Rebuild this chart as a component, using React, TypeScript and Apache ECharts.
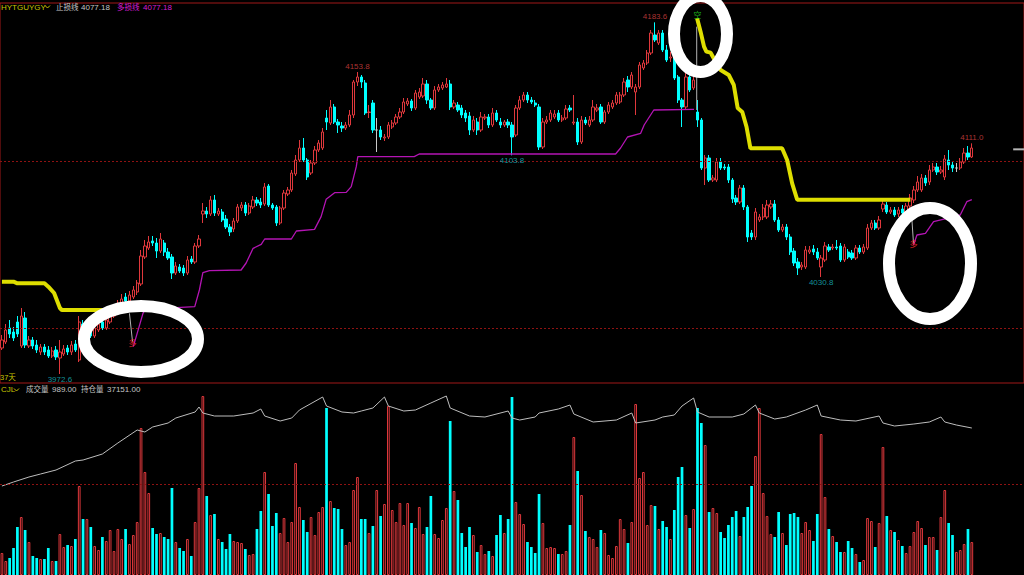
import React, { useEffect, useRef } from 'react';
import * as echarts from 'echarts';

// ---------- data ----------
// candles: [open, close, low, high]
const ohlc: number[][] = [
[3988.2,3993.0,3987.0,3996.0],[3991.8,3999.0,3990.6,4002.6],[4000.2,3996.6,3994.2,4005.0],[3997.8,3994.2,3992.4,4000.8],[4003.8,3996.6,3994.8,4007.4],
[3989.4,4007.4,3988.2,4012.2],[4006.2,3990.0,3988.2,4009.8],[3989.4,3993.0,3988.2,3995.4],[3993.0,3989.4,3987.6,3994.8],[3990.0,3987.0,3985.2,3993.0],
[3985.8,3988.8,3984.0,3990.6],[3988.8,3985.8,3984.0,3990.6],[3987.0,3983.4,3982.2,3989.4],[3983.4,3986.4,3982.2,3988.8],[3987.0,3982.8,3981.0,3989.4],
[3982.2,3985.8,3972.6,3993.0],[3984.6,3987.6,3983.4,3990.0],[3988.2,3985.8,3984.0,3990.0],[3985.8,3990.0,3984.0,3992.4],[3990.6,3987.0,3985.8,3993.0],
[3981.0,4003.8,3979.8,4007.4],[4002.6,3996.6,3994.8,4005.0],[3994.8,3999.0,3993.6,4001.4],[3999.0,3995.4,3994.2,4001.4],[3995.4,4000.2,3994.2,4002.6],
[3999.0,4002.6,3997.8,4005.0],[4003.8,4000.2,3999.0,4006.2],[4000.2,4005.0,3999.0,4007.4],[4003.8,4008.6,4002.6,4011.0],[4007.4,4011.0,4006.2,4013.4],
[4009.8,4014.6,4008.6,4017.0],[4013.4,4017.6,4012.2,4020.6],[4018.8,4016.4,4014.6,4021.2],[4016.4,4020.0,4015.2,4022.4],[4018.8,4023.0,4017.6,4025.4],
[4021.8,4027.2,4020.0,4029.0],[4026.6,4043.4,4025.4,4047.0],[4042.8,4049.4,4041.6,4053.0],[4048.2,4051.8,4047.0,4055.4],[4052.4,4051.2,4049.4,4055.4],
[4051.2,4046.4,4042.2,4054.2],[4046.4,4053.6,4045.2,4057.2],[4051.2,4045.8,4043.4,4053.0],[4045.8,4042.2,4041.0,4048.2],[4042.8,4033.2,4029.6,4044.6],
[4033.2,4037.4,4032.0,4039.8],[4036.8,4034.4,4033.2,4038.6],[4036.2,4033.2,4031.4,4038.0],[4033.2,4041.0,4032.0,4043.4],[4041.6,4039.8,4038.6,4043.4],
[4039.8,4049.4,4038.6,4051.2],[4049.4,4053.6,4048.2,4056.0],[4068.6,4070.4,4063.2,4075.2],[4070.4,4068.6,4066.2,4072.8],[4068.6,4077.0,4067.4,4079.4],
[4077.0,4069.2,4067.4,4080.0],[4068.6,4070.4,4067.4,4072.2],[4069.8,4065.0,4063.8,4071.6],[4065.6,4060.8,4059.6,4068.0],[4060.8,4057.8,4055.4,4062.6],
[4059.6,4064.4,4057.8,4066.2],[4064.4,4072.8,4063.2,4074.6],[4072.2,4074.0,4070.4,4075.8],[4074.0,4069.2,4067.4,4075.8],[4069.2,4073.4,4068.0,4075.2],
[4072.8,4077.0,4071.6,4079.4],[4077.0,4075.2,4073.4,4078.8],[4075.8,4074.0,4072.2,4078.2],[4074.6,4084.8,4073.4,4087.2],[4085.4,4074.0,4072.8,4086.6],
[4074.0,4072.2,4071.0,4075.2],[4072.8,4063.2,4061.4,4074.0],[4063.2,4072.2,4062.0,4073.4],[4072.2,4081.2,4071.0,4083.0],[4080.6,4083.0,4079.4,4084.8],
[4083.0,4093.2,4081.8,4095.0],[4092.6,4101.0,4091.4,4104.0],[4101.0,4108.2,4099.8,4113.0],[4108.2,4101.0,4099.8,4114.2],[4101.0,4090.8,4089.0,4102.2],
[4093.2,4099.2,4092.0,4101.0],[4099.2,4107.0,4098.0,4109.4],[4107.0,4111.2,4105.8,4113.0],[4108.2,4117.8,4107.0,4120.2],[4126.2,4123.8,4119.0,4131.0],
[4123.2,4132.8,4122.0,4137.0],[4132.8,4123.8,4122.6,4134.6],[4123.8,4122.0,4117.2,4125.6],[4121.4,4120.2,4117.8,4123.8],[4120.2,4122.0,4119.0,4123.8],
[4122.0,4128.0,4120.8,4131.0],[4128.0,4147.8,4126.2,4149.0],[4147.8,4150.8,4145.4,4153.8],[4150.8,4147.8,4144.2,4152.0],[4147.2,4129.2,4128.0,4149.0],
[4129.5,4129.8,4126.2,4134.0],[4135.2,4119.0,4117.2,4137.0],[4119.0,4119.0,4105.8,4126.2],[4119.0,4114.8,4113.0,4121.4],[4114.2,4114.8,4112.4,4116.6],
[4114.8,4122.0,4113.6,4123.8],[4120.8,4123.2,4119.6,4125.0],[4123.2,4126.8,4122.0,4128.6],[4126.8,4129.8,4125.6,4132.2],[4129.8,4135.8,4128.6,4138.2],
[4134.6,4136.4,4133.4,4138.2],[4136.4,4132.2,4130.4,4137.6],[4132.2,4141.2,4131.0,4143.0],[4138.8,4141.8,4137.6,4144.2],[4139.4,4146.6,4138.2,4150.2],
[4146.6,4137.0,4134.6,4149.0],[4137.0,4132.2,4131.0,4138.2],[4132.2,4143.0,4131.0,4145.4],[4143.0,4144.8,4141.8,4146.6],[4144.2,4146.0,4143.0,4147.8],
[4144.8,4146.6,4144.2,4150.2],[4146.6,4132.8,4131.0,4149.0],[4132.8,4135.2,4131.6,4137.0],[4134.0,4131.0,4129.8,4135.8],[4132.2,4128.0,4126.2,4134.0],
[4129.2,4126.2,4123.8,4131.0],[4127.4,4119.0,4116.0,4129.8],[4119.0,4125.0,4117.8,4127.4],[4123.8,4119.0,4116.0,4126.2],[4119.0,4126.8,4117.8,4129.8],
[4126.2,4126.8,4125.0,4128.6],[4126.8,4122.0,4120.2,4128.6],[4122.0,4129.2,4120.8,4132.2],[4129.2,4125.0,4123.8,4131.0],[4123.8,4122.0,4120.2,4126.2],
[4122.0,4123.8,4120.8,4125.0],[4123.8,4122.0,4120.2,4125.6],[4122.0,4114.8,4103.8,4123.8],[4116.0,4132.2,4114.8,4134.0],[4132.2,4137.0,4131.0,4139.4],
[4137.0,4140.0,4135.8,4141.8],[4140.0,4137.0,4135.2,4141.8],[4137.0,4135.8,4134.6,4138.8],[4135.2,4134.0,4132.8,4137.0],[4132.8,4108.8,4107.0,4134.6],
[4108.8,4123.8,4107.6,4126.2],[4123.8,4125.0,4122.6,4127.4],[4125.0,4129.2,4123.8,4131.0],[4126.8,4128.6,4125.6,4131.0],[4129.2,4125.0,4123.8,4131.0],
[4125.0,4126.2,4123.8,4128.0],[4126.2,4131.6,4125.0,4134.0],[4132.2,4131.0,4129.8,4134.0],[4123.2,4123.8,4122.0,4140.0],[4123.8,4111.8,4110.0,4126.2],
[4111.8,4125.0,4110.6,4127.4],[4125.0,4123.2,4122.0,4126.8],[4122.0,4125.0,4120.8,4127.4],[4125.0,4132.8,4123.8,4137.0],[4131.0,4132.2,4129.8,4134.6],
[4132.8,4123.8,4122.6,4134.6],[4123.8,4129.8,4122.6,4131.0],[4129.8,4134.0,4128.6,4135.8],[4132.8,4135.2,4131.6,4137.0],[4135.2,4140.0,4134.0,4141.8],
[4135.8,4140.0,4134.6,4141.8],[4140.0,4147.8,4138.8,4150.2],[4149.0,4144.8,4141.8,4151.4],[4144.8,4152.0,4143.6,4153.8],[4141.8,4144.8,4128.0,4146.6],
[4144.8,4158.0,4143.6,4159.8],[4156.2,4159.2,4155.0,4161.0],[4159.2,4165.2,4158.0,4167.0],[4165.2,4177.2,4164.0,4179.0],[4176.0,4173.0,4171.8,4183.6],
[4171.2,4177.2,4170.0,4179.0],[4177.2,4167.0,4165.8,4179.0],[4167.0,4161.0,4159.8,4170.0],[4162.2,4162.8,4159.8,4165.8],[4162.2,4150.2,4149.0,4164.0],
[4150.8,4137.0,4135.2,4152.0],[4137.0,4132.8,4120.8,4138.2],[4132.8,4150.8,4131.6,4153.8],[4150.8,4143.0,4141.8,4152.0],[4144.2,4149.0,4143.0,4152.0],
[4129.8,4125.0,4120.8,4137.0],[4125.0,4096.2,4095.0,4126.2],[4096.2,4102.2,4086.0,4104.0],[4102.2,4089.0,4087.8,4104.0],[4089.0,4090.2,4087.8,4092.0],
[4089.0,4099.8,4087.8,4102.2],[4099.8,4096.2,4095.0,4102.2],[4096.8,4096.2,4095.0,4098.6],[4096.8,4089.0,4087.2,4098.6],[4089.0,4077.6,4075.2,4090.2],
[4078.2,4075.8,4074.0,4080.0],[4075.8,4084.2,4074.6,4086.0],[4084.2,4072.8,4071.0,4086.0],[4072.8,4054.8,4051.8,4074.0],[4057.2,4054.8,4053.0,4059.0],
[4054.8,4069.8,4053.0,4072.2],[4065.0,4066.8,4063.8,4068.6],[4066.8,4072.2,4065.0,4074.6],[4066.8,4074.0,4065.6,4077.0],[4072.8,4074.6,4071.6,4077.0],
[4074.6,4065.0,4063.8,4077.0],[4065.0,4059.0,4057.8,4066.8],[4059.0,4060.8,4057.8,4062.6],[4060.8,4054.8,4053.0,4062.6],[4054.8,4045.8,4044.0,4056.6],
[4046.4,4039.2,4037.4,4048.2],[4039.8,4036.2,4032.0,4042.2],[4036.8,4038.0,4035.0,4039.8],[4036.8,4047.0,4035.6,4049.4],[4045.8,4047.0,4044.6,4049.4],
[4047.6,4045.8,4044.0,4050.0],[4045.8,4042.2,4041.0,4048.2],[4036.8,4042.2,4030.8,4044.0],[4041.0,4049.4,4039.8,4051.8],[4048.8,4047.0,4045.8,4050.6],
[4048.2,4048.8,4047.0,4050.6],[4048.8,4048.2,4047.0,4053.0],[4049.4,4041.0,4039.8,4051.2],[4041.0,4048.8,4039.8,4050.6],[4045.8,4042.8,4041.6,4047.6],
[4045.2,4042.2,4041.0,4047.0],[4042.2,4048.2,4041.0,4050.0],[4048.2,4045.8,4044.6,4050.0],[4045.8,4048.8,4044.6,4050.6],[4048.2,4060.2,4047.0,4062.6],
[4060.2,4063.2,4059.0,4065.0],[4063.2,4060.2,4059.0,4065.0],[4060.2,4065.0,4059.0,4067.4],[4071.6,4074.6,4069.8,4078.2],[4074.0,4069.8,4068.6,4075.8],
[4069.8,4071.0,4068.6,4072.8],[4071.0,4068.0,4066.8,4072.8],[4068.6,4071.0,4066.8,4072.8],[4071.6,4069.2,4068.0,4074.0],[4069.8,4073.4,4068.6,4075.2],
[4073.4,4078.2,4072.2,4080.6],[4077.0,4083.0,4075.2,4085.4],[4083.0,4087.8,4081.8,4091.4],[4083.0,4090.2,4081.8,4092.6],[4090.2,4087.2,4085.4,4092.0],
[4087.8,4095.0,4086.0,4098.0],[4095.0,4096.8,4093.8,4099.2],[4096.8,4093.8,4092.0,4099.2],[4093.8,4095.0,4092.6,4097.4],[4090.8,4101.6,4089.0,4104.0],
[4101.0,4098.0,4095.0,4107.0],[4098.0,4096.2,4093.8,4099.8],[4096.2,4096.2,4093.8,4099.2],[4096.2,4099.8,4095.0,4102.2],[4099.8,4105.2,4098.6,4108.2],
[4105.2,4102.8,4101.0,4109.4],[4102.8,4108.2,4102.2,4111.0],
];

const volumes: number[] = [
660,420,510,810,1440,1740,1350,990,570,510,
480,480,810,420,420,1230,840,900,870,1080,
2670,1680,1680,1440,870,750,1140,1020,1350,720,
1380,1080,1380,930,1200,1590,4410,3090,2460,1410,
1230,1260,1140,1080,2610,990,810,720,1080,570,
1590,2610,5370,2370,1800,1830,1080,990,780,1230,
1020,990,960,780,600,630,1380,1920,3090,2430,
1470,1860,1260,1710,990,1590,3360,2040,1650,1290,
1740,1200,1890,2040,5010,2220,2010,1980,1380,900,
990,2550,2940,1680,1680,1260,1470,2550,1770,2130,
5070,1950,1590,2160,1500,2160,1560,1410,2040,1230,
1440,2370,1230,1110,1650,2010,4620,2520,2250,1260,
840,1440,1200,690,900,630,720,570,1200,1800,
1260,1680,5340,2190,1830,1530,990,840,660,2430,
1560,810,840,810,630,630,720,1500,4140,3120,
2400,1320,1140,1080,840,1350,1260,600,510,870,
1680,1380,960,1590,5130,2910,3090,1500,2100,2070,
1380,1620,1440,1080,1950,2940,3240,1800,1410,1980,
5010,4560,3900,1890,2010,1860,1290,1110,1500,1740,
1920,1170,1740,2040,2670,3570,5010,2460,1770,1230,
1140,1890,1260,900,1830,1860,1740,1260,1590,1350,
1020,1830,4230,2340,1380,1170,990,690,690,1020,
810,630,390,450,1710,1620,840,1560,3840,1770,
1350,1290,1050,870,660,870,1290,1620,1410,900,
1140,1140,750,1740,2550,1560,1200,690,750,930,
1380,989,
];

// open interest [bar index, value]
const openInterest: number[][] = [
[0,34251],[3,34451],[7,34701],[10,34851],[14,35051],[19,35501],[21,35551],[26,35851],[30,36401],[35,37051],[37,36951],
[39,37201],[43,37401],[45,37651],[50,37951],[51,38201],[52,37901],[55,37751],[60,37751],[65,37901],[67,38101],[68,37751],
[72,37501],[75,37651],[77,38051],[83,38701],[84,38251],[88,37951],[91,37901],[93,38001],[96,38151],[99,38701],[100,38251],
[104,38001],[107,38051],[111,38401],[115,38751],[116,38151],[121,37751],[125,37701],[131,38001],[132,37651],[134,37551],
[138,37701],[139,37901],[144,38101],[147,38301],[148,37851],[153,37451],[159,37551],[163,37901],[164,37401],[169,37551],
[171,37701],[174,37801],[176,38251],[179,38651],[180,37951],[183,37701],[189,37701],[192,37851],[195,38301],[196,37901],
[200,37601],[203,37701],[208,38051],[211,38301],[212,37751],[217,37551],[221,37501],[227,37751],[228,37401],[231,37251],
[236,37351],[240,37451],[243,37701],[244,37451],[247,37301],[251,37151],
];

// stop-loss line (yellow) [bar index, price]
const stopLineA: number[][] = [
[0,4028.0],[3,4028.0],[4,4027.0],[11,4027.0],[12,4025.0],[13.5,4021.2],[15,4012.2],[15.5,4011.0],[27,4011.0],
];
const stopLineB: number[][] = [
[179.9,4186.0],[180.8,4178.0],[181.7,4169.0],[182.3,4166.0],[183.4,4165.4],[184.7,4160.0],[186,4155.0],[188.1,4152.0],
[189.4,4146.0],[190.4,4132.2],[191.6,4129.8],[192.7,4120.8],[193.7,4108.0],[201.9,4108.0],[203.2,4101.0],[204.5,4087.0],
[205.8,4077.18],[235.1,4077.18],
];
// long stop line (magenta)
const longLineA: number[][] = [
[34,3989.0],[36.5,4009.0],[37.1,4011.4],[49.9,4013.0],[51.1,4023.0],[52,4033.4],[53.7,4034.6],[61.9,4035.0],[63.2,4039.2],
[65,4048.0],[67.1,4050.4],[68,4053.6],[74.9,4053.6],[76.2,4058.4],[80.9,4059.4],[82.6,4067.0],[83.9,4077.4],[86.1,4081.4],
[89.1,4081.6],[90.4,4085.0],[91.7,4097.0],[92.1,4103.0],[106.7,4103.0],[108,4104.6],[158.8,4104.6],[160.1,4108.2],
[161.9,4114.8],[165.3,4117.0],[166.2,4122.0],[168.7,4131.0],[179.1,4131.4],
];
const longLineB: number[][] = [
[235.9,4050.0],[236.8,4056.0],[239,4057.0],[241.1,4064.0],[244.6,4066.0],[248,4068.0],[249.7,4076.0],[251,4077.18],
];
// signal connectors
const signalLinkA: number[][] = [[33,4009.0],[33.8,3992.0]];
const signalLinkB: number[][] = [[179.8,4181.0],[179.8,4131.0]];
const signalLinkC: number[][] = [[235.5,4065.0],[235.9,4051.0]];
// signals
const signalBars = [33.8, 180, 235.9];
const signalPrices = [3991.2, 4188.0, 4050.6];
const signalTexts = ['多', '空', '多'];
// extreme labels
const extremeBars = [15, 92, 132, 169, 212, 251];
const extremePrices = [3972.6, 4153.8, 4103.8, 4183.6, 4030.8, 4111.0];
const extremeIsHigh = [false, true, false, true, false, true];

const priceGridLines = [4000, 4100];
const volumeGridLines = [2730];
const lastPrice = 4107.4;
const stopValue = 4077.18;
const longStopValue = 4077.18;
const lastVolume = 989.0;
const lastOpenInterest = 37151.0;

const SLOTS = 265;

export default function App() {
  const ref = useRef<HTMLDivElement>(null);
  useEffect(() => {
    if (!ref.current) return;
    const chart = echarts.init(ref.current, null, { renderer: 'svg' });
    const FONT = "'Liberation Sans','Noto Sans CJK SC',sans-serif";
    const RED = '#e0383c';
    const CYAN = '#00ffff';
    const OLIVE = '#c8c400';
    const GREY = '#c4c4c4';
    const MAG = '#d21ed2';
    const cats = Array.from({ length: SLOTS }, (_, i) => String(i));

    const txt = (x: number, y: number, text: string, fill: string, size = 8) => ({
      type: 'text', x, y, z: 50,
      style: { text, fill, font: `${size}px ${FONT}`, verticalAlign: 'middle' },
    });

    const volData = volumes.map((v, i) => {
      const c = ohlc[i];
      const up = c[1] >= c[0];
      return {
        value: v,
        itemStyle: up
          ? { color: '#000', borderColor: RED, borderWidth: 1 }
          : { color: CYAN, borderWidth: 0 },
      };
    });

    const lineS = (data: number[][], color: string, width: number, z = 5) => ({
      type: 'line', xAxisIndex: 1, yAxisIndex: 0, data, symbol: 'none', silent: true,
      lineStyle: { color, width }, z,
    });

    const option: any = {
      animation: false,
      backgroundColor: '#000',
      grid: [
        { left: -1.6, top: 3, width: 1025.6, height: 380, show: true, borderColor: '#a01818', borderWidth: 1 },
        { left: -1.6, top: 383, width: 1025.6, height: 192, show: false },
      ],
      xAxis: [
        { type: 'category', gridIndex: 0, data: cats, show: false },
        { type: 'value', gridIndex: 0, min: -0.5, max: SLOTS - 0.5, show: false },
        { type: 'category', gridIndex: 1, data: cats, show: false },
        { type: 'value', gridIndex: 1, min: -0.5, max: SLOTS - 0.5, show: false },
      ],
      yAxis: [
        { type: 'value', gridIndex: 0, min: 3967.2, max: 4195.2, show: false },
        { type: 'value', gridIndex: 1, min: 0, max: 5760, show: false },
        { type: 'value', gridIndex: 1, min: 29801, max: 39401, show: false },
      ],
      series: [
        {
          type: 'candlestick', xAxisIndex: 0, yAxisIndex: 0, data: ohlc, barWidth: 2.8, silent: true,
          itemStyle: {
            color: '#000', color0: CYAN, borderColor: RED, borderColor0: CYAN,
            borderColorDoji: '#c8c8c8', borderWidth: 1,
          },
          markLine: {
            silent: true, symbol: ['none', 'none'], label: { show: false },
            lineStyle: { color: '#8e1212', type: [2, 2], width: 1 },
            data: priceGridLines.map((v) => ({ yAxis: v })),
          },
          z: 2,
        },
        lineS(longLineA, '#b414b4', 1.3, 4),
        lineS(longLineB, '#b414b4', 1.3, 4),
        lineS(stopLineA, '#dede00', 4, 5),
        lineS(stopLineB, '#dede00', 4, 5),
        lineS(signalLinkA, '#b4b4b4', 1, 6),
        lineS(signalLinkB, '#b4b4b4', 1, 6),
        lineS(signalLinkC, '#b4b4b4', 1, 6),
        lineS([[261.7, lastPrice], [264.5, lastPrice]], '#b4b4b4', 2, 6),
        {
          type: 'scatter', xAxisIndex: 1, yAxisIndex: 0, silent: true, symbolSize: 1, z: 7,
          itemStyle: { color: 'rgba(0,0,0,0)' },
          data: extremeBars.map((k, i) => ({
            value: [k, extremePrices[i]],
            label: {
              show: true, formatter: extremePrices[i].toFixed(1),
              position: extremeIsHigh[i] ? 'top' : 'bottom', distance: 1,
              color: extremeIsHigh[i] ? '#d84040' : '#18b8c0', fontSize: 8, fontFamily: FONT,
            },
          })),
        },
        {
          type: 'scatter', xAxisIndex: 1, yAxisIndex: 0, silent: true, symbolSize: 1, z: 8,
          itemStyle: { color: 'rgba(0,0,0,0)' },
          data: signalBars.map((k, i) => ({
            value: [k, signalPrices[i]],
            label: {
              show: true, formatter: signalTexts[i], position: 'inside',
              color: signalTexts[i] === '空' ? '#22dd22' : '#ff2a2a', fontSize: 8, fontFamily: FONT,
            },
          })),
        },
        {
          type: 'bar', xAxisIndex: 2, yAxisIndex: 1, data: volData, barWidth: 2.7, silent: true,
          markLine: {
            silent: true, symbol: ['none', 'none'], label: { show: false },
            lineStyle: { color: '#8e1212', type: [2, 2], width: 1 },
            data: volumeGridLines.map((v) => ({ yAxis: v })),
          },
          z: 2,
        },
        {
          type: 'line', xAxisIndex: 3, yAxisIndex: 2, data: openInterest, symbol: 'none', silent: true,
          lineStyle: { color: '#bdbdbd', width: 1 }, z: 4,
        },
      ],
      graphic: [
        txt(1, 7.5, 'HYTGUYGY', OLIVE),
        { type: 'polyline', z: 50, shape: { points: [[45, 5.5], [47.5, 8], [50, 5.5]] }, style: { stroke: OLIVE, fill: 'none', lineWidth: 1 } },
        txt(56, 7.5, '止损线', GREY, 7.5),
        txt(81, 7.5, stopValue.toFixed(2), GREY),
        txt(117, 7.5, '多损线', MAG, 7.5),
        txt(143, 7.5, longStopValue.toFixed(2), MAG),
        txt(0, 377.5, '37天', OLIVE, 7.5),
        txt(1, 389.5, 'CJL', OLIVE),
        { type: 'polyline', z: 50, shape: { points: [[14, 388.5], [16.5, 391], [19, 388.5]] }, style: { stroke: OLIVE, fill: 'none', lineWidth: 1 } },
        txt(26, 389.5, '成交量', GREY, 7.5),
        txt(52, 389.5, lastVolume.toFixed(2), GREY),
        txt(81, 389.5, '持仓量', GREY, 7.5),
        txt(107, 389.5, lastOpenInterest.toFixed(2), GREY),
        { type: 'ellipse', z: 100, shape: { cx: 141, cy: 339, rx: 57, ry: 33 }, style: { fill: 'none', stroke: '#ffffff', lineWidth: 12 } },
        { type: 'ellipse', z: 100, shape: { cx: 700.5, cy: 34, rx: 26.5, ry: 38 }, style: { fill: 'none', stroke: '#ffffff', lineWidth: 12 } },
        { type: 'ellipse', z: 100, shape: { cx: 930, cy: 263.5, rx: 41, ry: 55.5 }, style: { fill: 'none', stroke: '#ffffff', lineWidth: 12 } },
      ],
    };
    chart.setOption(option);
    return () => chart.dispose();
  }, []);
  return (
    <div
      ref={ref}
      style={{ position: 'fixed', left: 0, top: 0, width: 1024, height: 575, background: '#000' }}
    />
  );
}
